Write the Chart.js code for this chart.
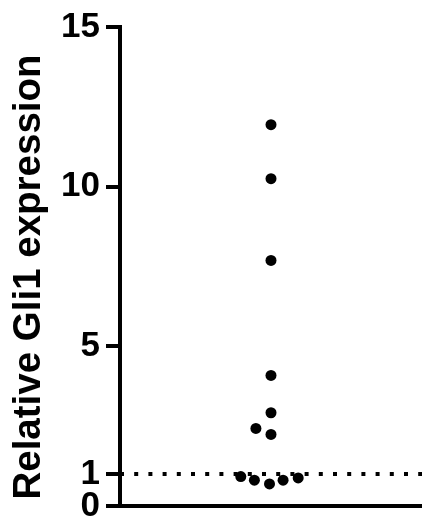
<!DOCTYPE html>
<html>
<head>
<meta charset="utf-8">
<script src="https://cdn.jsdelivr.net/npm/chart.js@4"></script>
<style>
  body { margin: 0; background: #fff; }
  canvas { display: block; }
</style>
</head>
<body>
<canvas id="grafica" width="422" height="521"></canvas>
<script>
// values (one group, jittered horizontally)
const gli1Values = [11.94, 10.25, 7.69, 4.09, 2.92, 2.43, 2.24, 0.92, 0.81, 0.69, 0.81, 0.88];
const gli1Jitter = [0, 0, 0, 0, 0, -0.1, 0, -0.2, -0.11, -0.01, 0.08, 0.18];
const yTicks = [0, 1, 5, 10, 15];
const refLevel = 1;
const axisTitle = 'Relative Gli1 expression';

const fuente = '"Liberation Sans", Arial, sans-serif';

const puntos = gli1Values.map((v, i) => ({ x: gli1Jitter[i], y: v }));

// y axis title, drawn by hand so it sits a bit lower than the axis centre
const tituloEje = {
  id: 'tituloEje',
  afterDraw(chart) {
    const ctx = chart.ctx;
    ctx.save();
    ctx.translate(29, 277);
    ctx.rotate(-Math.PI / 2);
    ctx.fillStyle = '#000';
    ctx.font = 'bold 38.5px ' + fuente;
    ctx.textAlign = 'center';
    ctx.textBaseline = 'middle';
    ctx.fillText(axisTitle, 0, 0);
    ctx.restore();
  }
};

new Chart(document.getElementById('grafica'), {
  type: 'scatter',
  data: {
    datasets: [
      {
        label: 'Gli1',
        data: puntos,
        backgroundColor: '#000',
        borderWidth: 0,
        pointRadius: 5.5,
        order: 0
      },
      {
        type: 'line',
        label: 'ref',
        data: [{ x: -1, y: refLevel }, { x: 1, y: refLevel }],
        borderColor: '#000',
        borderWidth: 4,
        borderDash: [4, 10.2],
        pointRadius: 0,
        fill: false,
        order: 1
      }
    ]
  },
  options: {
    responsive: false,
    animation: false,
    layout: { autoPadding: false, padding: { top: 27, bottom: 15, left: 0, right: 0 } },
    plugins: {
      legend: { display: false },
      tooltip: { enabled: false }
    },
    scales: {
      x: {
        type: 'linear',
        min: -1,
        max: 1,
        ticks: { display: false },
        grid: { display: false, drawTicks: false },
        border: { display: true, color: '#000', width: 4 },
        afterFit: (scale) => {
          scale.height = 0;
          scale.paddingLeft = 0;
          scale.paddingRight = 0;
        }
      },
      y: {
        min: 0,
        max: 15,
        afterBuildTicks: (scale) => {
          scale.ticks = yTicks.map((v) => ({ value: v }));
        },
        afterFit: (scale) => {
          scale.width = 120;
          scale.paddingTop = 0;
          scale.paddingBottom = 0;
        },
        ticks: {
          color: '#000',
          padding: 6,
          font: { family: fuente, size: 35, weight: 'bold', lineHeight: 1 }
        },
        grid: {
          drawOnChartArea: false,
          drawTicks: true,
          tickLength: 14,
          tickWidth: 4,
          tickColor: '#000',
          lineWidth: 4,
          color: '#000'
        },
        border: { display: true, color: '#000', width: 4 }
      }
    }
  },
  plugins: [tituloEje]
});
</script>
</body>
</html>
